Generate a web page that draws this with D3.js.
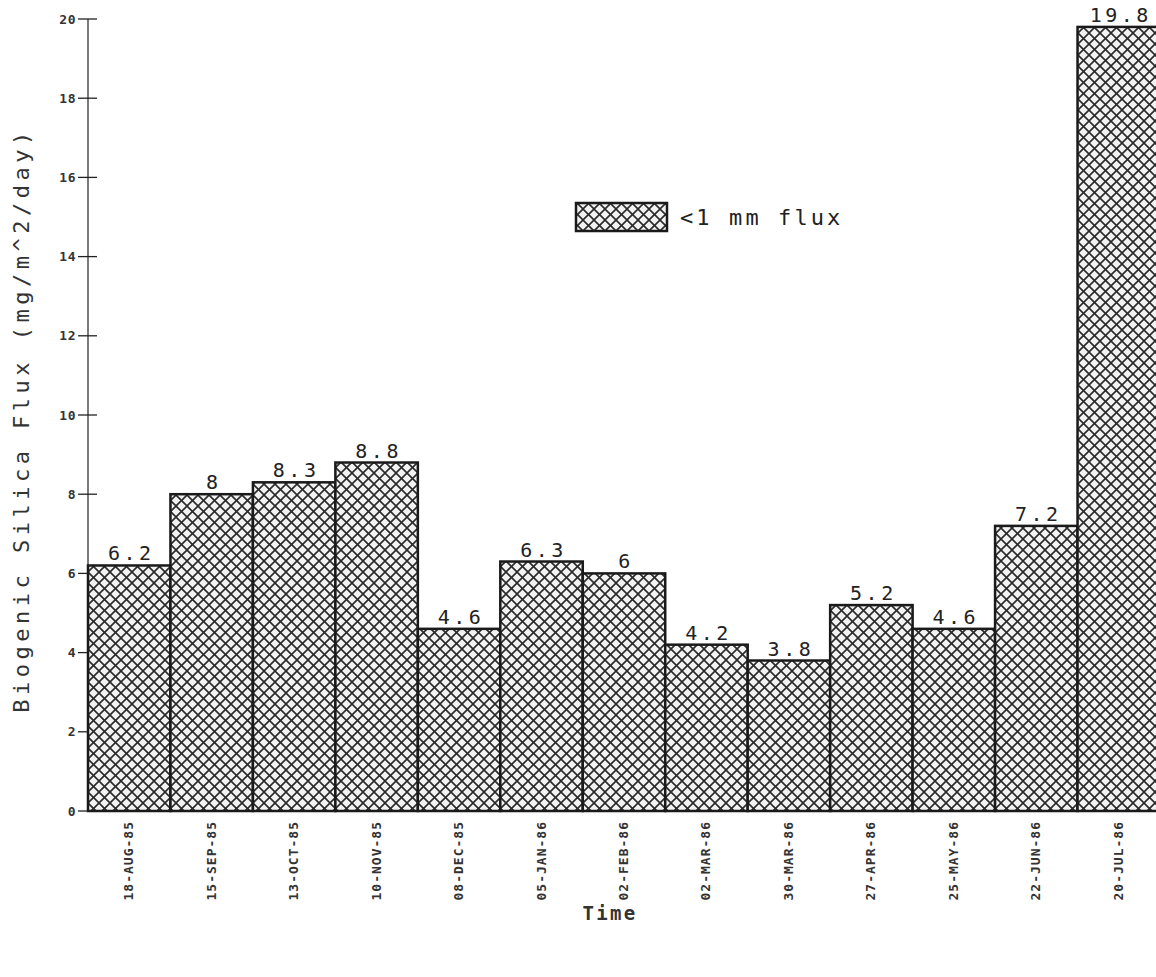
<!DOCTYPE html>
<html><head><meta charset="utf-8">
<script src="https://cdn.jsdelivr.net/npm/d3@7"></script>
<style>body{margin:0;background:#fff;}svg{display:block;}</style>
</head><body>
<script>
const categories = ["18-AUG-85","15-SEP-85","13-OCT-85","10-NOV-85","08-DEC-85","05-JAN-86","02-FEB-86","02-MAR-86","30-MAR-86","27-APR-86","25-MAY-86","22-JUN-86","20-JUL-86"];
const values = [6.2, 8, 8.3, 8.8, 4.6, 6.3, 6, 4.2, 3.8, 5.2, 4.6, 7.2, 19.8];
const yTicks = [0, 2, 4, 6, 8, 10, 12, 14, 16, 18, 20];
const seriesName = "<1 mm flux";

const W = 1156, H = 977;
const svg = d3.select("body").append("svg").attr("width", W).attr("height", H);

const defs = svg.append("defs");
const pat = defs.append("pattern").attr("id","hatch").attr("patternUnits","userSpaceOnUse")
  .attr("width",11).attr("height",11);
pat.append("rect").attr("width",11).attr("height",11).attr("fill","#f2f2f2");
pat.append("path").attr("d","M-1,-1 L12,12 M-1,10 L1,12 M10,-1 L12,1").attr("stroke","#2a2a2a").attr("stroke-width",1.6);
pat.append("path").attr("d","M12,-1 L-1,12 M1,-1 L-1,1 M12,10 L10,12").attr("stroke","#2a2a2a").attr("stroke-width",1.6);

const x = d3.scaleBand().domain(categories).range([88, 1160]).padding(0);
const y = d3.scaleLinear().domain([0, 20]).range([811, 19]);

const mono = "'DejaVu Sans Mono', 'Liberation Mono', monospace";

// y axis
const yAxis = svg.append("g").attr("transform","translate(88,0)");
yAxis.append("line").attr("x1",0).attr("x2",0).attr("y1",y(20)).attr("y2",y(0))
  .attr("stroke","#222").attr("stroke-width",1.2);
yTicks.forEach(t => {
  yAxis.append("line").attr("x1",-10).attr("x2",9).attr("y1",y(t)).attr("y2",y(t))
    .attr("stroke","#222").attr("stroke-width",1.3);
  yAxis.append("text").attr("x",-12).attr("y",y(t)).attr("dy","0.35em")
    .attr("text-anchor","end").attr("font-family",mono).attr("font-weight","bold")
    .attr("font-size",13).attr("letter-spacing","0.5px").attr("fill","#333").text(t);
});

// bars
svg.append("g").selectAll("rect").data(values).join("rect")
  .attr("x",(d,i)=>x(categories[i]))
  .attr("y",d=>y(d))
  .attr("width",x.bandwidth())
  .attr("height",d=>y(0)-y(d))
  .attr("fill","url(#hatch)")
  .attr("stroke","#1a1a1a").attr("stroke-width",2.5);

// value labels
svg.append("g").selectAll("text").data(values).join("text")
  .attr("x",(d,i)=>x(categories[i])+x.bandwidth()/2+2)
  .attr("y",d=>y(d)-5)
  .attr("text-anchor","middle").attr("font-family",mono)
  .attr("font-size",20).attr("letter-spacing","3.5px").attr("fill","#222")
  .text(d=>String(d));

// x labels
svg.append("g").selectAll("text").data(categories).join("text")
  .attr("transform",(d)=>`translate(${x(d)+x.bandwidth()/2+4},821) rotate(-90)`)
  .attr("text-anchor","end").attr("font-family",mono).attr("font-weight","bold")
  .attr("font-size",13).attr("letter-spacing","1px").attr("fill","#333").text(d=>d);

// axis titles
svg.append("text").attr("x",610).attr("y",920).attr("text-anchor","middle")
  .attr("font-family",mono).attr("font-weight","bold").attr("font-size",19).attr("fill","#333")
  .attr("letter-spacing","2.3px").text("Time");
svg.append("text").attr("transform","translate(29,420) rotate(-90)").attr("text-anchor","middle")
  .attr("font-family",mono).attr("font-size",22).attr("fill","#333").attr("letter-spacing","4.5px")
  .text("Biogenic Silica Flux  (mg/m^2/day)");

// legend
const lg = svg.append("g");
lg.append("rect").attr("x",576).attr("y",203).attr("width",91).attr("height",28)
  .attr("fill","url(#hatch)").attr("stroke","#1a1a1a").attr("stroke-width",2.5);
lg.append("text").attr("x",680).attr("y",225).attr("font-family",mono)
  .attr("font-size",22).attr("letter-spacing","3.1px").attr("fill","#222").text(seriesName);
</script>
</body></html>
